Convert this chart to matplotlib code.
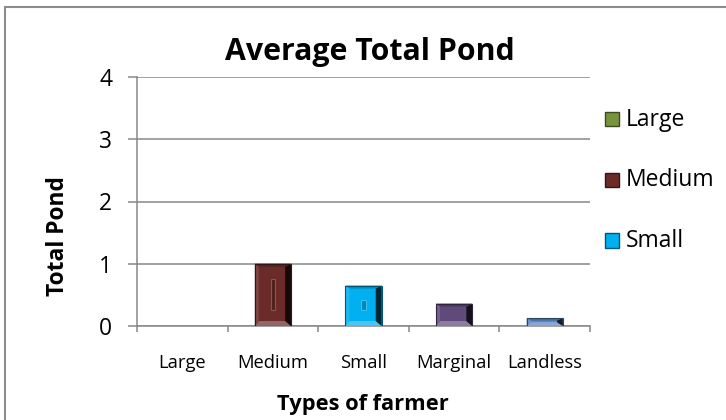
import matplotlib
matplotlib.use("Agg")
import matplotlib.pyplot as plt
from matplotlib.patches import Polygon, Rectangle
import numpy as np

plt.rcParams['font.family'] = ['Open Sans', 'DejaVu Sans']

# data
categories = ['Large', 'Medium', 'Small', 'Marginal', 'Landless']
values = [0.0, 1.0, 0.65, 0.36, 0.125]
bar_colors = ['#77933C', '#6B2B29', '#00B0F0', '#604A7B', '#5B87C2']
legend_labels = ['Large', 'Medium', 'Small']
legend_colors = ['#77933C', '#6B2B29', '#00B0F0']
y_ticks = [0, 1, 2, 3, 4]


def shade(color, f):
    c = np.array(matplotlib.colors.to_rgb(color))
    if f < 1:
        c = c * f
    else:
        c = c + (1 - c) * (f - 1)
    return tuple(np.clip(c, 0, 1))


def bevel_bar(ax, x, h, w, color, bl=0.045, br=0.065, bt=0.05, bb=0.08):
    """bar with a slanted bevel, roughly like the excel 3d preset"""
    if h <= 0:
        return
    k = min(1.0, h / (bt + bb) * 0.8)
    bt, bb = bt * k, bb * k
    x0, x1 = x - w / 2, x + w / 2
    ax.add_patch(Rectangle((x0, 0), w, h, facecolor=color, edgecolor='none', zorder=3))
    ix0, ix1, iy0, iy1 = x0 + bl, x1 - br, bb, h - bt
    sides = [
        ([(x0, h), (x1, h), (ix1, iy1), (ix0, iy1)], shade(color, 0.8)),    # top
        ([(x0, 0), (x1, 0), (ix1, iy0), (ix0, iy0)], shade(color, 1.28)),   # bottom
        ([(x0, 0), (x0, h), (ix0, iy1), (ix0, iy0)], shade(color, 1.12)),   # left
        ([(x1, 0), (x1, h), (ix1, iy1), (ix1, iy0)], shade(color, 0.22)),   # right
    ]
    for pts, c in sides:
        ax.add_patch(Polygon(pts, closed=True, facecolor=c, edgecolor='none', zorder=3))
    # small inner ridge on the taller bars
    if h - 0.49 > 0.1:
        ax.add_patch(Rectangle((x - 0.025, 0.25), 0.05, h - 0.49, facecolor=shade(color, 0.75),
                               edgecolor=shade(color, 1.2), lw=0.8, zorder=4))
    ax.add_patch(Rectangle((x0, 0), w, h, facecolor='none',
                           edgecolor=shade(color, 0.5), lw=0.8, zorder=4))


def fit(texts, target_px, fig, vertical=False):
    # scale font so the first text spans target_px on the canvas
    r = fig.canvas.get_renderer()
    bb = texts[0].get_window_extent(r)
    span = bb.height if vertical else bb.width
    size = texts[0].get_fontsize() * target_px / span
    for t in texts:
        t.set_fontsize(size)


fig = plt.figure(figsize=(7.26, 4.20), dpi=100)
ax = fig.add_axes([137 / 726, 1 - 326 / 420, (590 - 137) / 726, (326 - 77) / 420])

xs = np.arange(len(categories))
for x, v, c in zip(xs, values, bar_colors):
    bevel_bar(ax, x, v, 0.4, c)

ax.set_xlim(-0.5, len(categories) - 0.5)
ax.set_ylim(0, 4)
ax.set_yticks(y_ticks)
ax.set_yticklabels([str(t) for t in y_ticks], fontsize=14)
ax.yaxis.grid(True, color='#878787', lw=1.1, zorder=0)
ax.set_axisbelow(True)

ax.set_xticks(np.arange(-0.5, len(categories)))
ax.set_xticklabels([])
ax.set_xticks(xs, minor=True)
ax.set_xticklabels(categories, minor=True, fontsize=11)
ax.tick_params(axis='x', which='major', length=4.5, color='#878787', width=1.1)
ax.tick_params(axis='x', which='minor', length=0, pad=20.5)
ax.tick_params(axis='y', length=6.5, color='#878787', width=1.1, pad=11.5)

for s in ['top', 'right']:
    ax.spines[s].set_visible(False)
for s in ['left', 'bottom']:
    ax.spines[s].set_color('#878787')
    ax.spines[s].set_linewidth(1.1)

title = fig.text(370 / 726, 1 - 60 / 420, 'Average Total Pond', fontsize=20,
                 fontweight='bold', ha='center', va='baseline')
ylab = fig.text(58 / 726, 1 - 236 / 420, 'Total Pond', fontsize=13, fontweight='bold',
                rotation=90, ha='center', va='center')
xlab = fig.text(363 / 726, 1 - 410 / 420, 'Types of farmer', fontsize=13,
                fontweight='bold', ha='center', va='baseline')

handles = [Rectangle((0, 0), 1, 1, facecolor=c, edgecolor=shade(c, 0.5)) for c in legend_colors]
leg = fig.legend(handles, legend_labels, loc='upper left', bbox_to_anchor=(587 / 726, 1 - 90 / 420),
                 frameon=False, fontsize=14, handlelength=0.75, handleheight=0.75,
                 handletextpad=0.35, labelspacing=1.9)

fig.canvas.draw()
fit([title], 290, fig)
fit([xlab], 171, fig)
fit([ylab], 119, fig, vertical=True)
cat_labels = ax.get_xticklabels(minor=True)
fit([cat_labels[1]] + [t for t in cat_labels if t is not cat_labels[1]], 71, fig)
ytl = ax.get_yticklabels()
fit([ytl[-1]] + list(ytl[:-1]), 13, fig)
lt = leg.get_texts()
fit([lt[1], lt[0], lt[2]], 89, fig)

fig.patches.append(Rectangle((5 / 726, -0.05), 1.1, 1 - 7 / 420 + 0.05, transform=fig.transFigure,
                             facecolor='none', edgecolor='#8c8c8c', lw=1.5))

fig.savefig('out.png', dpi=100)
